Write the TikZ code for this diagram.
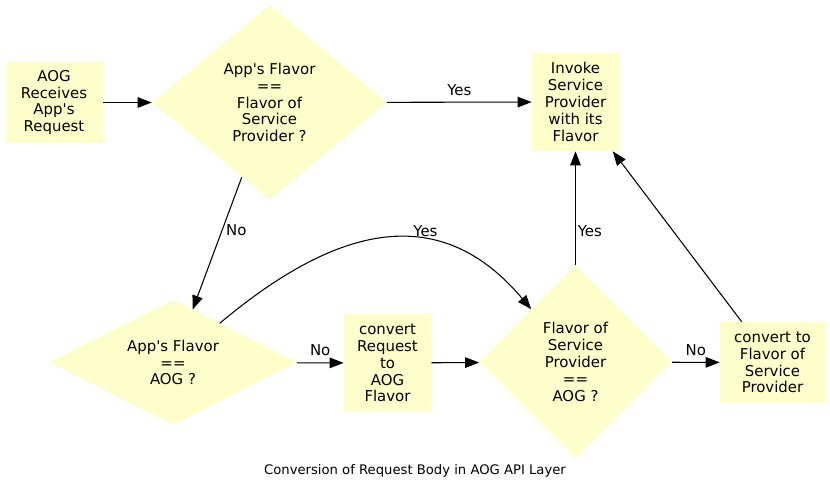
\documentclass[tikz,border=0pt]{standalone}
\usepackage{fontspec}
\setmainfont{DejaVu Sans}
\usepackage{tikz}
\usetikzlibrary{shapes.geometric, arrows.meta, positioning}
\definecolor{myfill}{RGB}{255,255,204}
\definecolor{mydark}{RGB}{0,0,0}
\newcommand{\apos}{\textquotesingle}
\tikzset{
  stepbox/.style={rectangle, fill=myfill, draw=none, inner sep=0pt,
    align=center, font=\fontsize{8.5}{9.6}\selectfont},
  decision/.style={diamond, fill=myfill, draw=none, inner sep=0pt,
    align=center, font=\fontsize{8.5}{9.6}\selectfont},
  arrow/.style={-{Triangle[length=8pt,width=6pt]}, line width=0.6pt, color=mydark},
  lbl/.style={font=\fontsize{8.5}{9.6}\selectfont, inner sep=3.5pt}
}
\begin{document}
\begin{tikzpicture}[x=0.02cm, y=-0.02cm]
  \useasboundingbox (0,0) rectangle (830,491);

  \node[stepbox, minimum width=1.96cm, minimum height=1.62cm] (recv) at (54,102.5)
    {AOG\\Receives\\App\apos s\\Request};
  \node[decision, minimum width=4.7cm, minimum height=3.9cm] (d1) at (269.5,102.5)
    {App\apos s Flavor\\==\\Flavor of\\Service\\Provider ?};
  \node[stepbox, minimum width=1.74cm, minimum height=1.96cm] (invoke) at (575.5,102)
    {Invoke\\Service\\Provider\\with its\\Flavor};
  \node[decision, shape aspect=2, minimum width=4.96cm, minimum height=2.5cm] (d2) at (173,362.5)
    {App\apos s Flavor\\==\\AOG ?};
  \node[stepbox, minimum width=1.74cm, minimum height=1.96cm] (convreq) at (387.5,363)
    {convert\\Request\\to\\AOG\\Flavor};
  \node[decision, minimum width=3.86cm, minimum height=3.88cm] (d3) at (575.5,362)
    {Flavor of\\Service\\Provider\\==\\AOG ?};
  \node[stepbox, minimum width=2.1cm, minimum height=1.62cm] (convsp) at (772.5,362.5)
    {convert to\\Flavor of\\Service\\Provider};

  \node[font=\fontsize{7.5}{9}\selectfont] (caption) at (415,471)
    {Conversion of Request Body in AOG API Layer};

  \draw[arrow] (recv) -- (d1);
  \draw[arrow] (d1) -- node[lbl, above] {Yes} (invoke);
  \draw[arrow] (d1) -- node[lbl, pos=0.4, right, inner sep=2pt] {No} (d2);
  \draw[arrow] (d2) to[out=40, in=130, looseness=1.2] node[lbl, pos=0.64, above, inner sep=2pt] {Yes} (d3);
  \draw[arrow] (d2) -- node[lbl, above] {No} (convreq);
  \draw[arrow] (convreq) -- (d3);
  \draw[arrow] (d3) -- node[lbl, pos=0.3, right, inner sep=1pt] {Yes} (invoke);
  \draw[arrow] (d3) -- node[lbl, above] {No} (convsp);
  \draw[arrow] (convsp) -- (invoke);
\end{tikzpicture}
\end{document}
